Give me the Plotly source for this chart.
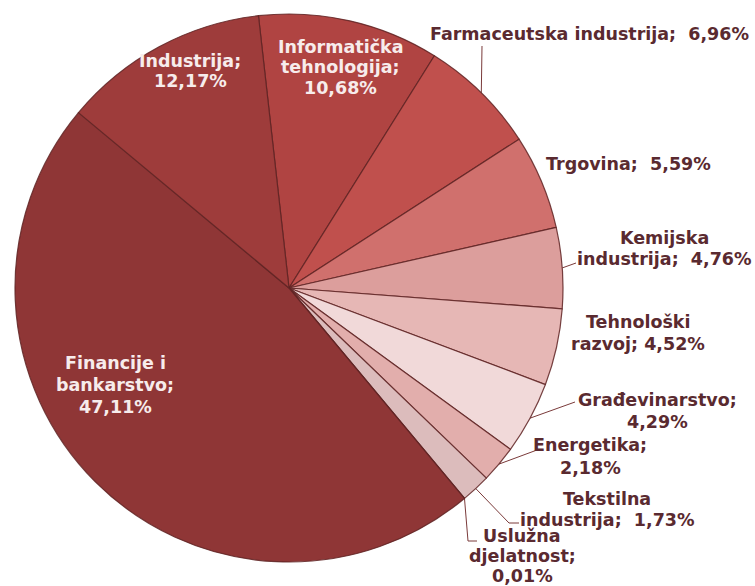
import numpy as np
import plotly.graph_objects as go

W, H = 755, 586

categories = ["Informatička tehnologija", "Farmaceutska industrija", "Trgovina",
              "Kemijska industrija", "Tehnološki razvoj", "Građevinarstvo",
              "Energetika", "Tekstilna industrija", "Uslužna djelatnost",
              "Financije i bankarstvo", "Industrija"]
values = [10.68, 6.96, 5.59, 4.76, 4.52, 4.29, 2.18, 1.73, 0.01, 47.11, 12.17]
label_lines = [["Informatička", "tehnologija;", "10,68%"],
               ["Farmaceutska industrija;  6,96%"],
               ["Trgovina;  5,59%"],
               ["Kemijska", "industrija;  4,76%"],
               ["Tehnološki", "razvoj; 4,52%"],
               ["Građevinarstvo;", "4,29%"],
               ["Energetika;", "2,18%"],
               ["Tekstilna", "industrija;  1,73%"],
               ["Uslužna", "djelatnost;", "0,01%"],
               ["Financije i", "bankarstvo;", "47,11%"],
               ["Industrija;", "12,17%"]]
colors = ["#b04442", "#c0504d", "#d0706d", "#dc9e9c", "#e6b7b5", "#f1d9d9",
          "#e2aeac", "#dcbcbc", "#d8c4c4", "#8f3636", "#9e3c3b"]

# layout (pixels)
cx, cy, R = 289, 288, 274
rotation = -6.4
inside = {"Informatička tehnologija", "Financije i bankarstvo", "Industrija"}
label_pos = {  # block centre (x, y) and line spacing
    "Informatička tehnologija": (340, 66, 20.5),
    "Industrija": (190, 70, 20),
    "Financije i bankarstvo": (115, 384, 22),
    "Farmaceutska industrija": (589, 33, 21),
    "Trgovina": (628, 163, 21),
    "Kemijska industrija": (664, 247.5, 21),
    "Tehnološki razvoj": (638, 332, 22),
    "Građevinarstvo": (657, 410, 22),
    "Energetika": (590, 455, 23),
    "Tekstilna industrija": (607, 508, 21),
    "Uslužna djelatnost": (522, 555, 20),
}
leader_end = {
    "Farmaceutska industrija": [(482, 46)],
    "Kemijska industrija": [(576, 263)],
    "Građevinarstvo": [(575, 402)],
    "Energetika": [(537, 450)],
    "Tekstilna industrija": [(509, 523), (519, 523)],
    "Uslužna djelatnost": [(468, 541), (477, 541)],
}

fig = go.Figure()
fig.add_trace(go.Pie(
    labels=categories, values=values, sort=False, direction="clockwise",
    rotation=rotation, textinfo="none", hoverinfo="label+percent",
    marker=dict(colors=colors, line=dict(color="rgba(95,35,35,0.85)", width=1.2)),
    domain=dict(x=[(cx - R) / W, (cx + R) / W], y=[1 - (cy + R) / H, 1 - (cy - R) / H]),
    showlegend=False,
))

# leader lines from the slice edge (angles derived from values)
vals = np.array(values)
cum = np.concatenate([[0], np.cumsum(vals)]) / vals.sum() * 360.0
mid = rotation + (cum[:-1] + cum[1:]) / 2
for i, cat in enumerate(categories):
    if cat in leader_end:
        a = np.deg2rad(mid[i])
        sx, sy = cx + R * np.sin(a), cy - R * np.cos(a)
        pts = [(sx, sy)] + leader_end[cat]
        fig.add_trace(go.Scatter(x=[p[0] for p in pts], y=[p[1] for p in pts], mode="lines",
                                 line=dict(color="#7a3a3a", width=1), hoverinfo="skip",
                                 showlegend=False))

for i, cat in enumerate(categories):
    x, y, sp = label_pos[cat]
    lines = label_lines[i]
    n = len(lines)
    for k, line in enumerate(lines):
        ly = y + (k - (n - 1) / 2) * sp + 1
        fig.add_annotation(x=x, y=ly, xref="x", yref="y", text=line, showarrow=False,
                           xanchor="center", yanchor="middle", align="center",
                           font=dict(family="DejaVu Sans", size=17.5, weight="bold",
                                     color="#f7ecec" if cat in inside else "#5a2a30"))

fig.update_layout(
    width=W, height=H, margin=dict(l=0, r=0, t=0, b=0),
    paper_bgcolor="white", plot_bgcolor="rgba(0,0,0,0)",
    xaxis=dict(range=[0, W], visible=False, domain=[0, 1], fixedrange=True),
    yaxis=dict(range=[H, 0], visible=False, domain=[0, 1], fixedrange=True),
)
fig.write_html("out.html")
